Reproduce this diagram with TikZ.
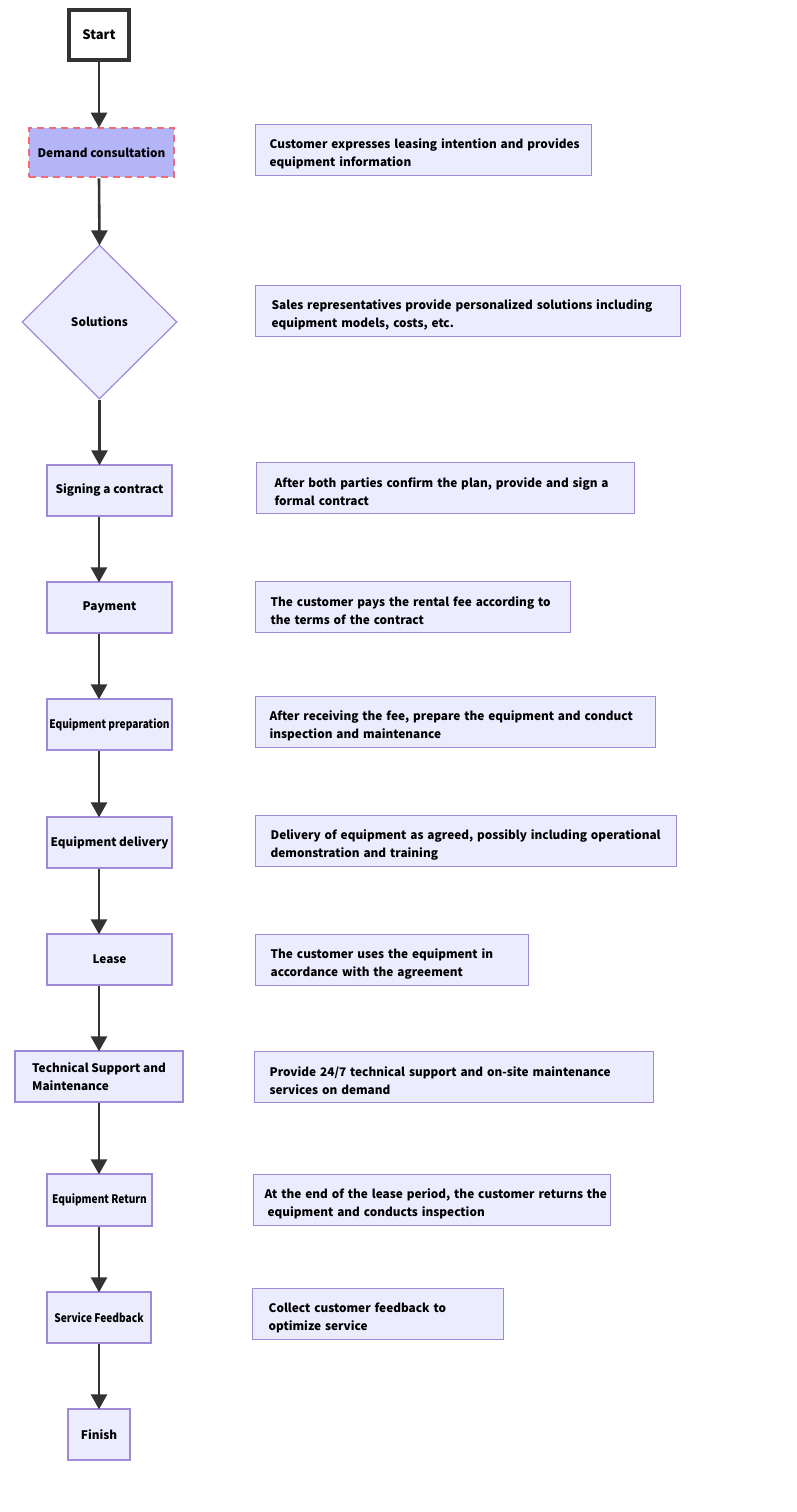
\documentclass[tikz,border=0pt]{standalone}
\usepackage{fontspec}
\setmainfont{Noto Sans CJK SC}
\usepackage{graphicx}
\usetikzlibrary{arrows.meta,shapes.geometric}
\definecolor{nodefill}{HTML}{ECECFF}
\definecolor{nodeline}{HTML}{A08AD8}
\definecolor{arrowc}{HTML}{333333}
\definecolor{hlfill}{HTML}{B4B4F8}
\definecolor{hlline}{HTML}{F06A78}
\tikzset{
  x=1pt,y=-1pt,
  base/.style={font=\bfseries\fontsize{11.8}{18}\selectfont, text=black, inner sep=0pt},
  lbox/.style={base, draw=nodeline, fill=nodefill, line width=1.3pt, align=center},
  rbox/.style={base, draw=nodeline, fill=nodefill, line width=1.3pt, anchor=north west, align=left, inner xsep=14pt, minimum height=51pt},
  flow/.style={draw=arrowc, line width=2.6pt, -{Triangle[length=15pt,width=16pt]}, shorten >=-1pt},
}
\newcommand{\cnd}[1]{\scalebox{0.86}[1]{#1}}
\newcommand{\oneline}[1]{\mbox{#1}}
\newcommand{\firstline}[1]{\mbox{\rule{0pt}{17pt}#1}}
\begin{document}
\begin{tikzpicture}
\useasboundingbox (0,0) rectangle (796,1512);
% left column
\node[base, font=\bfseries\fontsize{13}{18}\selectfont, draw=arrowc, fill=white, line width=4.2pt, minimum width=60pt, minimum height=50pt] (start) at (99,35) {Start};
\node[base, draw=hlline, fill=hlfill, line width=2.6pt, dash pattern=on 7pt off 5pt, minimum width=145pt, minimum height=49pt] (dc) at (101.5,152.5) {Demand consultation};
\node[base, diamond, draw=nodeline, fill=nodefill, line width=1.2pt, minimum width=155pt, minimum height=154pt] (sol) at (99.5,322) {Solutions};
\node[lbox, minimum width=125pt, minimum height=51pt] (sign) at (109.5,490.5) {Signing a contract};
\node[lbox, minimum width=125pt, minimum height=51pt] (pay) at (109.5,607.5) {Payment};
\node[lbox, minimum width=125pt, minimum height=51pt] (prep) at (109.5,724.5) {\cnd{Equipment preparation}};
\node[lbox, minimum width=125pt, minimum height=51pt] (deliv) at (109.5,842.5) {Equipment delivery};
\node[lbox, minimum width=125pt, minimum height=51pt] (lease) at (109.5,959.5) {Lease};
\node[lbox, minimum width=168pt, minimum height=51pt, align=left] (tech) at (99,1076.5) {Technical Support and\\Maintenance};
\node[lbox, minimum width=105pt, minimum height=52pt] (ret) at (99.5,1200) {\cnd{Equipment Return}};
\node[lbox, minimum width=104pt, minimum height=51pt] (fb) at (99,1317.5) {\cnd{Service Feedback}};
\node[lbox, minimum width=62pt, minimum height=51pt] (fin) at (99,1434.5) {Finish};
% arrows
\draw[flow] (start.south) -- (dc.north -| start.south);
\draw[flow] (dc.south -| start.south) -- (sol.north);
\draw[flow] (sol.south) -- (sign.north -| sol.south);
\draw[flow] (sign.south -| start.south) -- (pay.north -| start.south);
\draw[flow] (pay.south -| start.south) -- (prep.north -| start.south);
\draw[flow] (prep.south -| start.south) -- (deliv.north -| start.south);
\draw[flow] (deliv.south -| start.south) -- (lease.north -| start.south);
\draw[flow] (lease.south -| start.south) -- (tech.north -| start.south);
\draw[flow] (tech.south -| start.south) -- (ret.north -| start.south);
\draw[flow] (ret.south -| start.south) -- (fb.north -| start.south);
\draw[flow] (fb.south -| start.south) -- (fin.north);
% right column
\node[rbox, text width=308pt] (r1) at (255,124) {\firstline{Customer expresses leasing intention and provides}\\\oneline{equipment information}};
\node[rbox, text width=393pt, inner xsep=16pt] (r2) at (255,285) {\firstline{Sales representatives provide personalized solutions including}\\\oneline{equipment models, costs, etc.}};
\node[rbox, text width=342pt, inner xsep=18pt] (r3) at (256,462) {\firstline{After both parties confirm the plan, provide and sign a}\\\oneline{formal contract}};
\node[rbox, text width=285pt, inner xsep=15pt] (r4) at (255,581) {\firstline{The customer pays the rental fee according to}\\\oneline{the terms of the contract}};
\node[rbox, text width=372pt] (r5) at (255,696) {\firstline{After receiving the fee, prepare the equipment and conduct}\\\oneline{inspection and maintenance}};
\node[rbox, text width=391pt, inner xsep=15pt] (r6) at (255,815) {\firstline{Delivery of equipment as agreed, possibly including operational}\\\oneline{demonstration and training}};
\node[rbox, text width=243pt, inner xsep=15pt] (r7) at (255,934) {\firstline{The customer uses the equipment in}\\\oneline{accordance with the agreement}};
\node[rbox, text width=369pt, inner xsep=15pt] (r8) at (254,1051) {\firstline{Provide 24/7 technical support and on-site maintenance}\\\oneline{services on demand}};
\node[rbox, text width=335pt, inner xsep=11pt] (r9) at (253,1174) {\firstline{At the end of the lease period, the customer returns the}\\\oneline{\hspace*{3pt}equipment and conducts inspection}};
\node[rbox, text width=219pt, inner xsep=16pt] (r10) at (252,1288) {\firstline{Collect customer feedback to}\\\oneline{optimize service}};
\end{tikzpicture}
\end{document}
